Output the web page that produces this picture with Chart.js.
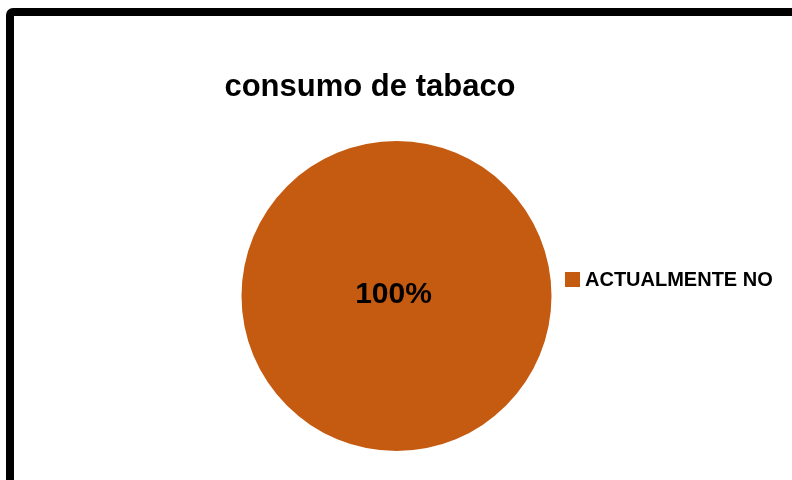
<!DOCTYPE html>
<html>
<head>
<meta charset="utf-8">
<script src="https://cdn.jsdelivr.net/npm/chart.js@4/dist/chart.umd.min.js"></script>
<style>
  html, body { margin: 0; padding: 0; background: #fff; overflow: hidden; }
  #wrap { position: relative; width: 792px; height: 480px; }
  /* thick frame around the chart, running off the right and bottom edges */
  #frame {
    position: absolute; left: 6px; top: 8px; width: 820px; height: 520px;
    border: 8px solid #000; border-radius: 7px; box-sizing: border-box;
  }
  canvas { position: absolute; left: 0; top: 0; }
</style>
</head>
<body>
<div id="wrap">
  <div id="frame"></div>
  <canvas id="chart" width="792" height="480"></canvas>
</div>
<script>
// ====== DATA ======
const chartTitle = 'consumo de tabaco';
const categories = ['ACTUALMENTE NO'];
const values = [100];
const sliceColors = ['#C55A11'];

const FONT = '"Liberation Sans", Arial, sans-serif';

// Title, percentage label and legend drawn on the canvas
const decorations = {
  id: 'decorations',
  afterDraw(chart) {
    const ctx = chart.ctx;
    const meta = chart.getDatasetMeta(0);
    const total = values.reduce((a, b) => a + b, 0);
    ctx.save();

    // title
    ctx.fillStyle = '#000';
    ctx.font = 'bold 31px ' + FONT;
    ctx.textAlign = 'center';
    ctx.textBaseline = 'alphabetic';
    ctx.fillText(chartTitle, 370, 96);

    // slice labels
    ctx.font = 'bold 30px ' + FONT;
    ctx.textBaseline = 'middle';
    meta.data.forEach((arc, i) => {
      const pct = Math.round(values[i] / total * 100) + '%';
      let x, y;
      if (values[i] === total) {
        x = arc.x - 3; y = arc.y - 1;
      } else {
        const p = arc.tooltipPosition();
        x = p.x; y = p.y;
      }
      ctx.fillText(pct, x, y);
    });

    // legend
    ctx.textAlign = 'left';
    ctx.font = 'bold 20px ' + FONT;
    categories.forEach((label, i) => {
      const y = 279 + i * 26;
      ctx.fillStyle = sliceColors[i];
      ctx.fillRect(565, y - 7, 15, 15);
      ctx.fillStyle = '#000';
      ctx.fillText(label, 585, y + 1);
    });
    ctx.restore();
  }
};

new Chart(document.getElementById('chart').getContext('2d'), {
  type: 'pie',
  data: {
    labels: categories,
    datasets: [{
      data: values,
      backgroundColor: sliceColors,
      borderWidth: 0
    }]
  },
  options: {
    responsive: false,
    animation: false,
    layout: { padding: { left: 241, right: 240, top: 141, bottom: 29 } },
    plugins: {
      legend: { display: false },
      title: { display: false },
      tooltip: { enabled: false }
    }
  },
  plugins: [decorations]
});
</script>
</body>
</html>
